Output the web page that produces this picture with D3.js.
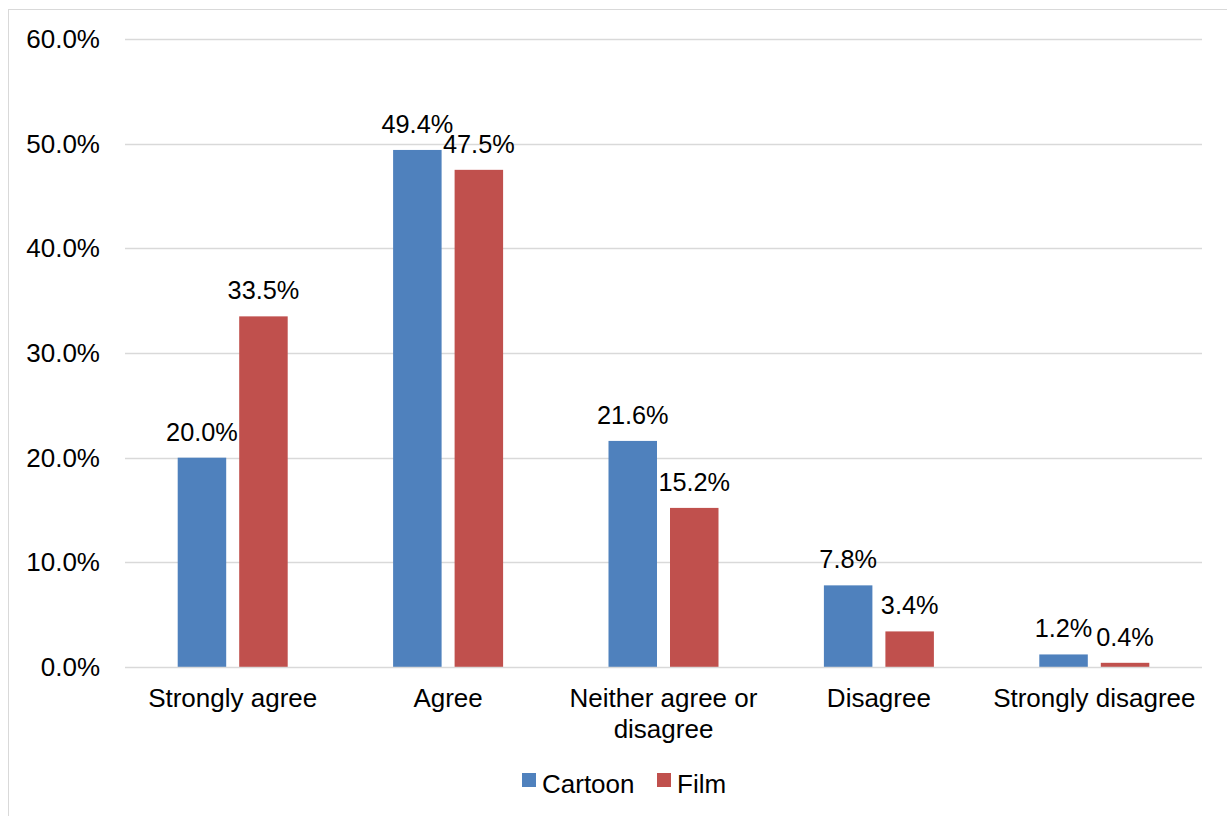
<!DOCTYPE html>
<html>
<head>
<meta charset="utf-8">
<script src="https://cdn.jsdelivr.net/npm/d3@7"></script>
<style>
  body { margin: 0; background: #fff; }
  text { font-family: "Liberation Sans", Arial, sans-serif; fill: #000; }
</style>
</head>
<body>
<div id="chart"></div>
<script>
// Data
var categories = [["Strongly agree"], ["Agree"], ["Neither agree or", "disagree"], ["Disagree"], ["Strongly disagree"]];
var seriesNames = ["Cartoon", "Film"];
var cartoon = [20.0, 49.4, 21.6, 7.8, 1.2];
var film = [33.5, 47.5, 15.2, 3.4, 0.4];
var yTicks = [0, 10, 20, 30, 40, 50, 60];
var colors = ["#4f81bd", "#c0504d"];

var w = 1227, h = 816;
var plotLeft = 125, plotRight = 1202, plotTop = 39, plotBottom = 667;
var fontSize = "26px";

var svg = d3.select("#chart").append("svg").attr("width", w).attr("height", h);

// outer border
svg.append("rect").attr("x", 8.5).attr("y", 9.5).attr("width", w).attr("height", h)
  .attr("fill", "none").attr("stroke", "#d9d9d9").attr("stroke-width", 1);

var x0 = d3.scaleBand().domain(d3.range(categories.length)).range([plotLeft, plotRight]);
var y = d3.scaleLinear().domain([0, 60]).range([plotBottom, plotTop]);

// gridlines
svg.append("g").selectAll("line").data(yTicks.slice(1)).enter().append("line")
  .attr("x1", plotLeft).attr("x2", plotRight)
  .attr("y1", function(d) { return Math.round(y(d)) + 0.5; })
  .attr("y2", function(d) { return Math.round(y(d)) + 0.5; })
  .attr("stroke", "#d9d9d9").attr("stroke-width", 1.5);

// y tick labels
svg.append("g").selectAll("text").data(yTicks).enter().append("text")
  .attr("x", 100).attr("y", function(d) { return y(d) + 9; })
  .attr("text-anchor", "end").style("font-size", fontSize)
  .text(function(d) { return d.toFixed(1) + "%"; });

var barW = 48.5, gap = 13;
var rows = [];
categories.forEach(function(c, i) {
  [cartoon[i], film[i]].forEach(function(v, s) {
    rows.push({ cat: i, s: s, v: v });
  });
});
function barX(d) {
  var c = x0(d.cat) + x0.bandwidth() / 2;
  return d.s === 0 ? c - gap / 2 - barW : c + gap / 2;
}

svg.append("g").selectAll("rect").data(rows).enter().append("rect")
  .attr("x", barX).attr("width", barW)
  .attr("y", function(d) { return y(d.v); })
  .attr("height", function(d) { return y(0) - y(d.v); })
  .attr("fill", function(d) { return colors[d.s]; });

// x axis line
svg.append("line").attr("x1", plotLeft).attr("x2", plotRight).attr("y1", plotBottom + 0.5).attr("y2", plotBottom + 0.5)
  .attr("stroke", "#d9d9d9").attr("stroke-width", 1.5);

// data labels
svg.append("g").selectAll("text").data(rows).enter().append("text")
  .attr("x", function(d) { return barX(d) + barW / 2; })
  .attr("y", function(d) { return y(d.v) - 17; })
  .attr("text-anchor", "middle").style("font-size", "25.3px")
  .text(function(d) { return d.v.toFixed(1) + "%"; });

// category labels
var catG = svg.append("g").selectAll("text").data(categories).enter().append("text")
  .attr("text-anchor", "middle").style("font-size", fontSize)
  .attr("x", function(d, i) { return x0(i) + x0.bandwidth() / 2; })
  .attr("y", 707);
catG.selectAll("tspan").data(function(d) { return d; }).enter().append("tspan")
  .attr("x", function() { return d3.select(this.parentNode).attr("x"); })
  .attr("dy", function(d, i) { return i === 0 ? 0 : 31; })
  .text(function(d) { return d; });

// legend
var legendItems = [{ name: seriesNames[0], x: 522 }, { name: seriesNames[1], x: 657 }];
var lg = svg.append("g");
lg.selectAll("rect").data(legendItems).enter().append("rect")
  .attr("x", function(d) { return d.x; }).attr("y", 773).attr("width", 14).attr("height", 14)
  .attr("fill", function(d, i) { return colors[i]; });
lg.selectAll("text").data(legendItems).enter().append("text")
  .attr("x", function(d) { return d.x + 20; }).attr("y", 793)
  .style("font-size", fontSize)
  .text(function(d) { return d.name; });
</script>
</body>
</html>
